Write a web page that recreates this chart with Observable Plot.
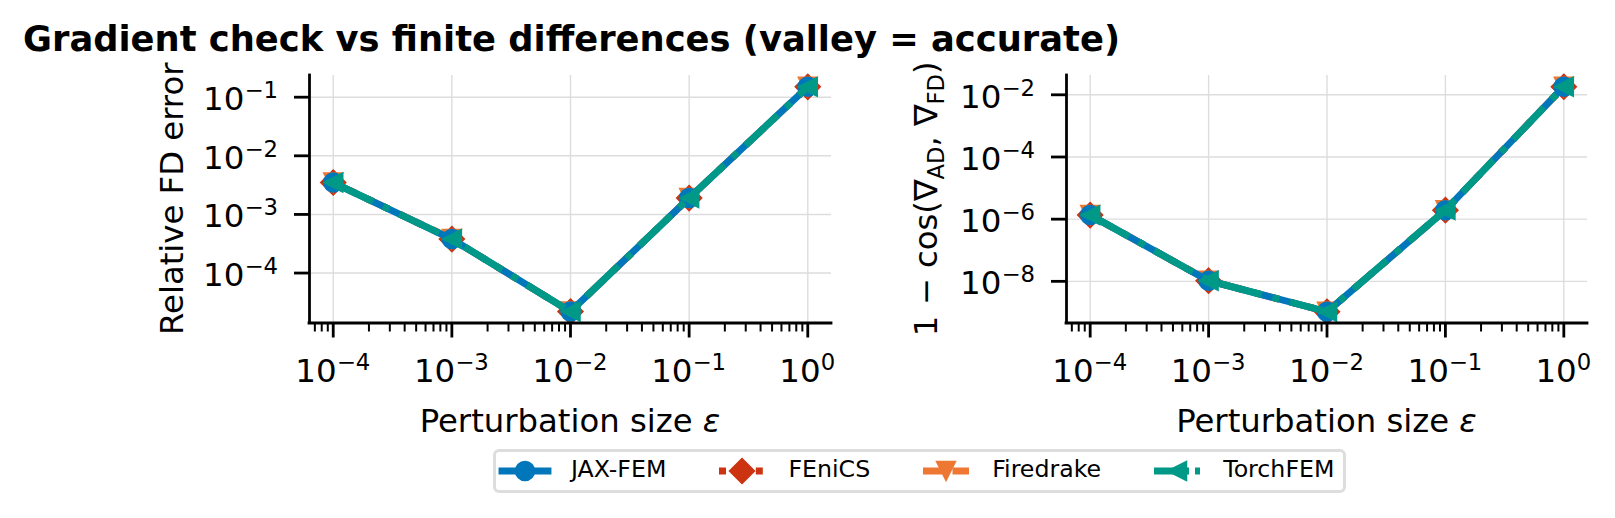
<!DOCTYPE html>
<html>
<head>
<meta charset="utf-8">
<script src="https://cdn.jsdelivr.net/npm/d3@7"></script>
<script src="https://cdn.jsdelivr.net/npm/@observablehq/plot@0.6"></script>
<style>
  html,body{margin:0;padding:0;background:#fff;}
  #root{position:relative;width:1615px;height:518px;overflow:hidden;background:#fff;font-family:"DejaVu Sans",sans-serif;}
  .panel{position:absolute;top:0;}
  #title{position:absolute;left:23px;top:21px;font-size:35.3px;line-height:35.3px;font-weight:bold;white-space:nowrap;color:#000;}
  #legend{position:absolute;left:493px;top:449px;height:38px;border:3px solid #dddddd;border-radius:6px;background:#fff;display:flex;align-items:center;padding:0 9px 0 6px;font-size:23.7px;color:#000;}
  .item{display:flex;align-items:center;}
  .item + .item{margin-left:53px;}
  .item svg{display:block;margin-right:23px;overflow:visible;}
  .item span{position:relative;top:-2px;}
</style>
</head>
<body>
<div id="root"></div>
<script>
// ---------------- data ----------------
const epsValues = [1e-4, 1e-3, 1e-2, 1e-1, 1];
const seriesNames = ["JAX-FEM", "FEniCS", "Firedrake", "TorchFEM"];
const seriesColors = ["#0077BB", "#CC3311", "#EE7733", "#009988"];

// Relative FD error (left panel)
const relErrJAXFEM    = [3.5e-3, 3.8e-4, 2.2e-5, 1.9e-3, 0.15];
const relErrFEniCS    = [3.5e-3, 3.8e-4, 2.2e-5, 1.9e-3, 0.15];
const relErrFiredrake = [3.5e-3, 3.8e-4, 2.2e-5, 1.9e-3, 0.15];
const relErrTorchFEM  = [3.5e-3, 3.8e-4, 2.2e-5, 1.9e-3, 0.15];

// 1 - cos(grad_AD, grad_FD) (right panel)
const cosErrJAXFEM    = [1.35e-6, 1.05e-8, 1.05e-9, 1.95e-6, 1.82e-2];
const cosErrFEniCS    = [1.35e-6, 1.05e-8, 1.05e-9, 1.95e-6, 1.82e-2];
const cosErrFiredrake = [1.35e-6, 1.05e-8, 1.05e-9, 1.95e-6, 1.82e-2];
const cosErrTorchFEM  = [1.35e-6, 1.05e-8, 1.05e-9, 1.95e-6, 1.82e-2];

// tick values (exponents of 10)
const xMajorExps = [-4, -3, -2, -1, 0];
const leftYExps = [-1, -2, -3, -4];
const rightYExps = [-2, -4, -6, -8];

const xLabel = "Perturbation size ";
const leftYLabel = "Relative FD error";
const titleText = "Gradient check vs finite differences (valley = accurate)";

// ---------------- styles ----------------
const LW = 6.9;
const dashes = [null, `${LW},${1.65 * LW}`, `${3.7 * LW},${1.6 * LW}`, `${6.4 * LW},${1.6 * LW},${LW},${1.6 * LW}`];
const legendDashes = [null, `7,11.4`, `25.5,4,100`, `35,6,5,100`];
const caps = ["square", "butt", "butt", "butt"];
const markerR = [9.5, 12.5, 9.5, 9.5];
const drawOrder = [1, 2, 0, 3];

const diamond = {draw(ctx, size) { const r = Math.sqrt(size / Math.PI); ctx.moveTo(0, -r); ctx.lineTo(r, 0); ctx.lineTo(0, r); ctx.lineTo(-r, 0); ctx.closePath(); }};
const triDown = {draw(ctx, size) { const r = Math.sqrt(size / Math.PI); ctx.moveTo(0, r); ctx.lineTo(-r, -r); ctx.lineTo(r, -r); ctx.closePath(); }};
const triLeft = {draw(ctx, size) { const r = Math.sqrt(size / Math.PI); ctx.moveTo(-r, 0); ctx.lineTo(r, -r); ctx.lineTo(r, r); ctx.closePath(); }};
const symbols = [d3.symbolCircle, diamond, triDown, triLeft];

const xMajor = xMajorExps.map(e => 10 ** e);
const xMinor = [];
for (let e = -5; e <= 0; e++) for (let k = 2; k <= 9; k++) {
  const v = k * 10 ** e;
  if (Math.log10(v) > -4.2 && Math.log10(v) < 0.2) xMinor.push(v);
}

const FONT = "DejaVu Sans";
const TICK_FS = 32.5;
const LABEL_FS = 32.3;

function supText(sel, x, y, exp, anchor) {
  const t = sel.append("text").attr("x", x).attr("y", y).attr("text-anchor", anchor)
    .attr("font-family", FONT).attr("font-size", TICK_FS).attr("fill", "#000");
  t.append("tspan").text("10");
  t.append("tspan").attr("font-size", TICK_FS * 0.7).attr("dy", -12)
    .text(exp < 0 ? "\u2212" + (-exp) : String(exp));
}

function makePanel(cfg) {
  const marks = [
    Plot.gridX({ticks: xMajor, stroke: "#dddddd", strokeOpacity: 1, strokeWidth: 1.4}),
    Plot.gridY({ticks: cfg.yExps.map(e => 10 ** e), stroke: "#dddddd", strokeOpacity: 1, strokeWidth: 1.4})
  ];
  drawOrder.forEach(i => {
    const vals = cfg.values[i];
    const rows = vals.map((v, j) => ({eps: epsValues[j], v, series: seriesNames[i]}));
    marks.push(Plot.line(rows, {x: "eps", y: "v", stroke: seriesColors[i], strokeWidth: LW,
      strokeDasharray: dashes[i], strokeLinecap: caps[i], strokeLinejoin: "round"}));
    marks.push(Plot.dot(rows, {x: "eps", y: "v", fill: seriesColors[i], stroke: seriesColors[i],
      strokeWidth: 1.5, r: markerR[i], symbol: symbols[i]}));
  });
  marks.push(
    Plot.axisX({ticks: xMinor, tickSize: 9, strokeWidth: 2, tickFormat: () => "", label: null}),
    Plot.axisX({ticks: xMajor, tickSize: 15, strokeWidth: 2.8, tickFormat: () => "", label: null}),
    Plot.axisY({ticks: cfg.yExps.map(e => 10 ** e), tickSize: 15, strokeWidth: 2.8, tickFormat: () => "", label: null}),
    Plot.ruleX([cfg.xDomain[0]], {stroke: "#000", strokeWidth: 2.8, strokeLinecap: "square"}),
    Plot.ruleY([cfg.yDomain[0]], {stroke: "#000", strokeWidth: 2.8, strokeLinecap: "square"})
  );
  const p = Plot.plot({
    width: cfg.width, height: 450,
    marginLeft: cfg.ml, marginRight: cfg.mr, marginTop: 75, marginBottom: 127.5,
    x: {type: "log", domain: cfg.xDomain},
    y: {type: "log", domain: cfg.yDomain},
    style: {background: "transparent", maxWidth: "none", overflow: "visible"},
    marks
  });
  const sx = p.scale("x"), sy = p.scale("y");
  const svg = d3.select(p);
  const g = svg.append("g");
  xMajorExps.forEach(e => supText(g, sx.apply(10 ** e), 382, e, "middle"));
  cfg.yExps.forEach(e => supText(g, cfg.ml - 31, sy.apply(10 ** e) + 13.5, e, "end"));
  // x label
  const cx = (cfg.ml + cfg.width - cfg.mr) / 2;
  const xl = g.append("text").attr("x", cx).attr("y", 432).attr("text-anchor", "middle")
    .attr("font-family", FONT).attr("font-size", LABEL_FS).attr("fill", "#000");
  xl.append("tspan").text(xLabel);
  xl.append("tspan").attr("font-style", "italic").text("\u03b5");
  // y label
  const cy = (75 + 450 - 127.5) / 2;
  const yl = g.append("text").attr("transform", `translate(${cfg.ylx},${cy}) rotate(-90)`)
    .attr("text-anchor", "middle").attr("font-family", FONT).attr("font-size", LABEL_FS).attr("fill", "#000");
  cfg.yLabel(yl);
  return p;
}

const root = document.getElementById("root");

const left = makePanel({
  values: [relErrJAXFEM, relErrFEniCS, relErrFiredrake, relErrTorchFEM],
  yExps: leftYExps, width: 850, ml: 309, mr: 19, ylx: 183,
  xDomain: [10 ** -4.2, 10 ** 0.2], yDomain: [10 ** -4.852, 10 ** -0.63],
  yLabel: t => t.text(leftYLabel)
});
const right = makePanel({
  values: [cosErrJAXFEM, cosErrFEniCS, cosErrFiredrake, cosErrTorchFEM],
  yExps: rightYExps, width: 765, ml: 216, mr: 28, ylx: 87,
  xDomain: [10 ** -4.2, 10 ** 0.2], yDomain: [10 ** -9.34, 10 ** -1.379],
  yLabel: t => {
    const s = LABEL_FS * 0.7;
    t.append("tspan").text("1 \u2212 cos(\u2207");
    t.append("tspan").attr("font-size", s).attr("dy", 6.5).text("AD");
    t.append("tspan").attr("dy", -6.5).text(", \u2207");
    t.append("tspan").attr("font-size", s).attr("dy", 6.5).text("FD");
    t.append("tspan").attr("dy", -6.5).text(")");
  }
});
const lw = document.createElement("div"); lw.className = "panel"; lw.style.left = "0px"; lw.appendChild(left);
const rw = document.createElement("div"); rw.className = "panel"; rw.style.left = "850px"; rw.appendChild(right);
root.appendChild(lw); root.appendChild(rw);

const title = document.createElement("div");
title.id = "title"; title.textContent = titleText;
root.appendChild(title);

// legend
const legend = d3.select(root).append("div").attr("id", "legend");
seriesNames.forEach((name, i) => {
  const item = legend.append("div").attr("class", "item");
  const s = item.append("svg").attr("width", 46).attr("height", 30);
  s.append("line").attr("x1", 0).attr("x2", 46).attr("y1", 15).attr("y2", 15)
    .attr("stroke", seriesColors[i]).attr("stroke-width", LW)
    .attr("stroke-dasharray", legendDashes[i]).attr("stroke-linecap", caps[i]);
  s.append("path").attr("transform", "translate(23,15)")
    .attr("d", d3.symbol(symbols[i], Math.PI * markerR[i] ** 2)())
    .attr("fill", seriesColors[i]).attr("stroke", seriesColors[i]).attr("stroke-width", 1.5);
  item.append("span").text(name);
});
</script>
</body>
</html>
